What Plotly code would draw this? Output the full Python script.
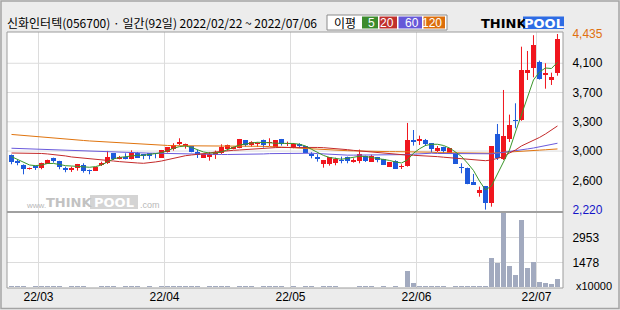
import pandas as pd
import numpy as np
import plotly.graph_objects as go

# ---------------- data ----------------
title_text = "신화인터텍(056700) · 일간(92일) 2022/02/22 ~ 2022/07/06"
krx_holidays = ["2022-03-01", "2022-03-09", "2022-05-05", "2022-06-01", "2022-06-06"]
dates = [d for d in pd.bdate_range("2022-02-22", "2022-07-06")
         if d.strftime("%Y-%m-%d") not in krx_holidays]

open_ = [2909, 2837, 2787, 2729, 2774, 2749, 2799, 2871, 2830, 2749,
         2720, 2749, 2787, 2724, 2711, 2779, 2804, 2934, 2863, 2888,
         2863, 2938, 2918, 2930, 2930, 2875, 2947, 2981, 3044, 3027,
         3022, 2947, 2875, 2888, 2905, 2930, 2981, 2981, 2994, 3098,
         3040, 3044, 3103, 3061, 3014, 3111, 3048, 3010, 3044, 3022,
         2922, 2880, 2796, 2800, 2812, 2846, 2884, 2821, 2834, 2900,
         2825, 2884, 2855, 2762, 2830, 2753, 2774, 3102, 3086, 3098,
         3057, 2955, 3014, 2938, 2930, 2762, 2745, 2569, 2426, 2518,
         2308, 3174, 2863, 3115, 3355, 3351, 3947, 4010, 4086, 3914, 3855, 3947]
high = [2915, 2850, 2790, 2750, 2775, 2812, 2850, 2875, 2835, 2762,
        2762, 2796, 2804, 2724, 2758, 2825, 2960, 2934, 2897, 2930,
        2968, 2947, 2920, 2930, 2930, 2972, 3006, 3057, 3120, 3052,
        3022, 2972, 2918, 2947, 2964, 3044, 3040, 3014, 3111, 3098,
        3082, 3069, 3103, 3120, 3098, 3111, 3078, 3060, 3057, 3022,
        2943, 2918, 2846, 2880, 2875, 2888, 2888, 2867, 2977, 2900,
        2913, 2884, 2860, 2821, 2842, 2792, 3313, 3224, 3153, 3111,
        3057, 3022, 3014, 2994, 2943, 2804, 2750, 2670, 2510, 2518,
        3022, 3300, 3729, 3418, 3561, 4275, 4221, 4420, 4099, 4066, 3947, 4435]
low = [2792, 2779, 2665, 2725, 2720, 2729, 2795, 2812, 2729, 2691,
       2695, 2711, 2686, 2666, 2711, 2770, 2796, 2846, 2854, 2854,
       2854, 2875, 2855, 2854, 2867, 2875, 2940, 2964, 3032, 2989,
       2943, 2871, 2875, 2837, 2859, 2922, 2964, 2981, 2994, 3014,
       3014, 3014, 3002, 3022, 3014, 3027, 3022, 2994, 2994, 2934,
       2867, 2825, 2749, 2774, 2779, 2804, 2804, 2812, 2804, 2821,
       2825, 2817, 2783, 2762, 2736, 2732, 2762, 3027, 3035, 3022,
       2938, 2947, 2930, 2938, 2800, 2678, 2540, 2535, 2383, 2220,
       2257, 2846, 2846, 3073, 3246, 3340, 3855, 3889, 3860, 3745, 3792, 3909]
close = [2825, 2812, 2737, 2742, 2749, 2812, 2846, 2837, 2762, 2716,
         2745, 2796, 2711, 2711, 2758, 2812, 2884, 2863, 2888, 2863,
         2934, 2875, 2890, 2897, 2918, 2972, 3006, 3035, 3073, 3048,
         2951, 2909, 2918, 2922, 2943, 3014, 3032, 3014, 3111, 3035,
         3069, 3057, 3035, 3073, 3098, 3048, 3061, 3052, 3022, 2939,
         2900, 2855, 2846, 2880, 2863, 2829, 2837, 2850, 2922, 2837,
         2900, 2850, 2783, 2821, 2736, 2770, 3102, 3069, 3115, 3044,
         2989, 2998, 2960, 2994, 2800, 2745, 2547, 2535, 2464, 2308,
         3022, 2870, 3149, 3288, 3334, 3981, 3981, 4300, 3871, 3939, 3893, 4372]
# volume in units of 10,000 shares
volume = [62, 58, 71, 45, 52, 66, 74, 55, 60, 49,
          53, 68, 57, 44, 50, 63, 95, 72, 48, 56,
          61, 54, 47, 52, 43, 70, 88, 76, 82, 59,
          64, 51, 46, 55, 58, 80, 66, 49, 90, 62,
          55, 48, 60, 57, 69, 53, 47, 51, 45, 58,
          62, 50, 55, 61, 52, 44, 49, 47, 73, 51,
          56, 48, 54, 50, 57, 46, 974, 277, 92, 63,
          58, 52, 55, 49, 66, 61, 78, 64, 57, 85,
          1767, 1469, 4430, 1273, 736, 4014, 1153, 1511, 319, 259, 200, 498]
ma5 = [2888, 2855, 2812, 2783, 2774, 2783, 2802, 2802, 2789, 2774,
       2770, 2764, 2758, 2754, 2762, 2783, 2821, 2859, 2878, 2888,
       2897, 2905, 2905, 2913, 2922, 2938, 2963, 2994, 3014, 3023,
       3004, 2978, 2947, 2934, 2934, 2947, 2972, 3006, 3035, 3052,
       3060, 3069, 3069, 3063, 3057, 3057, 3057, 3054, 3044, 3023,
       2981, 2938, 2903, 2878, 2862, 2855, 2867, 2880, 2893, 2890,
       2878, 2869, 2855, 2840, 2821, 2808, 2846, 2931, 2987, 3029,
       3044, 3044, 3029, 2997, 2947, 2890, 2806, 2714, 2581, 2468,
       2518, 2670, 2821, 2972, 3199, 3426, 3653, 3855, 3956, 4006, 4000, 4078]
ma20 = [2934, 2934, 2932, 2931, 2929, 2928, 2922, 2915, 2909, 2897,
        2884, 2878, 2869, 2862, 2855, 2846, 2840, 2833, 2825, 2817,
        2812, 2808, 2804, 2808, 2821, 2833, 2852, 2871, 2890, 2900,
        2909, 2915, 2922, 2934, 2947, 2956, 2963, 2968, 2972, 2978,
        2985, 2991, 2997, 3000, 3002, 3004, 3005, 3006, 3006, 3006,
        3006, 3004, 3001, 2997, 2990, 2982, 2976, 2967, 2960, 2951,
        2943, 2936, 2928, 2922, 2915, 2909, 2907, 2905, 2903, 2898,
        2893, 2888, 2881, 2875, 2867, 2862, 2857, 2852, 2846, 2837,
        2846, 2865, 2888, 2934, 2972, 3023, 3057, 3098, 3130, 3174, 3224, 3275]
ma60 = [2994, 2991, 2987, 2985, 2981, 2978, 2975, 2972, 2968, 2966,
        2963, 2960, 2956, 2953, 2951, 2948, 2947, 2943, 2941, 2938,
        2937, 2934, 2933, 2932, 2931, 2929, 2928, 2926, 2923, 2920,
        2918, 2915, 2915, 2915, 2915, 2915, 2915, 2915, 2915, 2915,
        2915, 2918, 2922, 2926, 2928, 2929, 2931, 2931, 2931, 2931,
        2931, 2927, 2922, 2917, 2912, 2907, 2907, 2907, 2907, 2907,
        2907, 2907, 2907, 2907, 2907, 2909, 2914, 2919, 2924, 2928,
        2931, 2928, 2928, 2928, 2928, 2928, 2928, 2928, 2928, 2922,
        2924, 2932, 2941, 2949, 2960, 2972, 2985, 2997, 3010, 3023, 3039, 3057]
ma120 = [3168, 3161, 3155, 3149, 3142, 3136, 3130, 3123, 3116, 3108,
         3102, 3097, 3092, 3086, 3081, 3076, 3071, 3066, 3060, 3057,
         3052, 3048, 3044, 3040, 3037, 3033, 3029, 3026, 3026, 3026,
         3026, 3026, 3026, 3026, 3026, 3023, 3023, 3023, 3023, 3023,
         3023, 3020, 3018, 3015, 3013, 3010, 3005, 3000, 2995, 2990,
         2985, 2981, 2977, 2973, 2970, 2966, 2963, 2961, 2958, 2956,
         2953, 2951, 2951, 2951, 2951, 2951, 2947, 2944, 2944, 2944,
         2944, 2939, 2938, 2937, 2936, 2934, 2931, 2931, 2931, 2931,
         2931, 2937, 2943, 2947, 2952, 2956, 2960, 2965, 2970, 2975, 2980, 2985]
ma_labels = ["5", "20", "60", "120"]
price_tick_labels = ["2,220", "2,600", "3,000", "3,300", "3,700", "4,100", "4,435"]
volume_tick_vals = [1478, 2953]
volume_tick_labels = ["1478", "2953"]
volume_unit = "x10000"
legend_title = "이평"

for arr in (open_, high, low, close, volume, ma5, ma20, ma60, ma120):
    assert len(arr) == len(dates) == 92

# ---------------- styles ----------------
W, H = 620, 310
ML, MR, MT, MB = 7, 57, 32, 22
PW, PH = W - ML - MR, H - MT - MB
RED, BLUE = "#F0161E", "#1E5ADC"
MA_COLORS = ["#3A962A", "#C42A2A", "#6A5ADC", "#E0740E"]
CHIP_COLORS = ["#3C8C2E", "#C0302C", "#6658D8", "#DC6E0C"]
GRID = "#DCDCDC"
FRAME = "#9C9C9C"
FONT = "Liberation Sans"
KFONT = "Noto Sans CJK KR"


def px(x):
    return (x - ML) / PW


def py(y):
    return (H - MB - y) / PH


VOL_DOMAIN_TOP = (288 - 212) / PH

idx = np.arange(len(dates))
o, h, l, c = map(np.array, (open_, high, low, close))
up = c >= o
dn = ~up

fig = go.Figure()


def wick_xy(mask):
    xs, ys = [], []
    for i in idx[mask]:
        xs += [i, i, None]
        ys += [l[i], h[i], None]
    return xs, ys


for mask, col in ((up, RED), (dn, BLUE)):
    wx, wy = wick_xy(mask)
    fig.add_trace(go.Scatter(x=wx, y=wy, mode="lines", line=dict(color=col, width=1),
                             xaxis="x2", yaxis="y", hoverinfo="skip", showlegend=False))
    base = np.minimum(o[mask], c[mask])
    hgt = np.maximum(np.abs(c[mask] - o[mask]), 13)
    fig.add_trace(go.Bar(x=idx[mask], y=hgt, base=base, width=0.82,
                         marker=dict(color=col, line=dict(width=0)),
                         xaxis="x2", yaxis="y", showlegend=False))

for ma, col in zip((ma120, ma60, ma20, ma5), MA_COLORS[::-1]):
    fig.add_trace(go.Scatter(x=idx, y=ma, mode="lines", line=dict(color=col, width=1),
                             xaxis="x2", yaxis="y", showlegend=False, hoverinfo="skip"))

fig.add_trace(go.Bar(x=idx, y=volume, width=0.82, marker=dict(color="#A2AABF", line=dict(width=0)),
                     xaxis="x", yaxis="y2", showlegend=False))

# month ticks from the trading dates
month_start = [i for i in idx if i == 0 or dates[i].month != dates[i - 1].month][1:]
month_vals = [i - 0.5 for i in month_start]
month_text = [dates[i].strftime("%y/%m") for i in month_start]

price_min, price_max = min(low), max(high)
price_ticks = list(np.linspace(price_min, price_max, len(price_tick_labels)))
price_ticktext = list(price_tick_labels)
price_ticktext[0] = f'<span style="color:#1414C8">{price_tick_labels[0]}</span>'
price_ticktext[-1] = f'<span style="color:#E07010">{price_tick_labels[-1]}</span>'

step = (price_max - price_min) / (209.6 - 34)
price_range = [price_min - 2.4 * step, price_max + 2 * step]
vstep = max(volume) / (287.35 - 213)
vol_range = [-0.65 * vstep, max(volume) + 1 * vstep]

xr = [-0.75, len(dates) - 0.08]
common_x = dict(range=xr, showgrid=True, gridcolor=GRID, gridwidth=1, zeroline=False,
                tickmode="array", tickvals=month_vals, ticks="", showline=False, fixedrange=True)

fig.update_layout(
    width=W, height=H, margin=dict(l=ML, r=MR, t=MT, b=MB),
    paper_bgcolor="#ECECEC", plot_bgcolor="#FFFFFF",
    barmode="overlay", bargap=0, showlegend=False,
    font=dict(family=FONT, size=12, color="#000"),
    xaxis=dict(**common_x, domain=[0, 1], anchor="y2", ticktext=month_text,
               tickfont=dict(family=FONT, size=12, color="#000")),
    xaxis2=dict(**common_x, domain=[0, 1], anchor="y", matches="x", showticklabels=False),
    yaxis=dict(domain=[VOL_DOMAIN_TOP, 1], anchor="x2", side="right", range=price_range,
               tickmode="array", tickvals=price_ticks, ticktext=price_ticktext,
               showgrid=False, zeroline=False, ticks="outside", ticklen=6,
               tickcolor="rgba(0,0,0,0)", tickfont=dict(family=FONT, size=12, color="#000")),
    yaxis2=dict(domain=[0, VOL_DOMAIN_TOP], anchor="x", side="right", range=vol_range,
                tickmode="array", tickvals=volume_tick_vals, ticktext=volume_tick_labels,
                showgrid=True, gridcolor=GRID, zeroline=False, ticks="outside", ticklen=6,
                tickcolor="rgba(0,0,0,0)", tickfont=dict(family=FONT, size=12, color="#000")),
)

shapes = []
for v in price_ticks[1:-1]:
    shapes.append(dict(type="line", xref="paper", yref="y", x0=0, x1=1, y0=v, y1=v,
                       line=dict(color=GRID, width=1), layer="below"))
shapes.append(dict(type="line", xref="paper", yref="paper", x0=0, x1=1,
                   y0=VOL_DOMAIN_TOP, y1=VOL_DOMAIN_TOP, line=dict(color="#A0A0A0", width=2)))
shapes.append(dict(type="rect", xref="paper", yref="paper", x0=0, x1=1, y0=0, y1=1,
                   line=dict(color=FRAME, width=1)))
shapes.append(dict(type="rect", xref="paper", yref="paper", x0=px(1), x1=px(619), y0=py(308.5), y1=py(1),
                   line=dict(color="#A4A4A4", width=1.5)))
shapes.append(dict(type="rect", xref="paper", yref="paper", x0=px(327), x1=px(447), y0=py(30), y1=py(15),
                   fillcolor="#FFFFFF", line=dict(color="#8C8C8C", width=1)))
chip_x = [(362, 378), (379.5, 397), (398.5, 422), (423.5, 445)]
for (a, b), col in zip(chip_x, CHIP_COLORS):
    shapes.append(dict(type="rect", xref="paper", yref="paper", x0=px(a), x1=px(b),
                       y0=py(28.5), y1=py(16.5), fillcolor=col, line=dict(width=0)))
shapes.append(dict(type="rect", xref="paper", yref="paper", x0=px(523), x1=px(564), y0=py(29), y1=py(16.5),
                   fillcolor="#2E6CE4", line=dict(width=0)))
shapes.append(dict(type="rect", xref="paper", yref="paper", x0=px(90), x1=px(138), y0=py(209), y1=py(195),
                   fillcolor="#D4D4D4", line=dict(width=0), layer="below"))
fig.update_layout(shapes=shapes)

ann = []


def add_text(text, x, y, size=12, color="#000", family=FONT, xanchor="left", yanchor="middle", bold=False):
    if bold:
        text = f"<b>{text}</b>"
    ann.append(dict(text=text, x=px(x), y=py(y), xref="paper", yref="paper", showarrow=False,
                    xanchor=xanchor, yanchor=yanchor, font=dict(size=size, color=color, family=family),
                    borderpad=0))


add_text(title_text, 6, 22.5, size=12, family=KFONT)
add_text(legend_title, 344.5, 22.5, size=12, family=KFONT, xanchor="center")
for (a, b), lab in zip(chip_x, ma_labels):
    add_text(lab, b - 2, 22.5, size=12, color="#FFFFFF", xanchor="right")
add_text("THINK", 480, 23, size=13, bold=True, family="DejaVu Sans")
add_text("POOL", 543.5, 23, size=13, color="#FFFFFF", bold=True, family="DejaVu Sans", xanchor="center")
# watermark
add_text("www.", 47, 205, size=8, color="#B8B8B8", xanchor="right")
add_text("THINK", 68.5, 202, size=13, color="#C2C2C2", bold=True, family="DejaVu Sans", xanchor="center")
add_text("POOL", 114, 202, size=13, color="#FFFFFF", bold=True, family="DejaVu Sans", xanchor="center")
add_text(".com", 138.5, 205, size=9, color="#B8B8B8")
add_text(volume_unit, 575, 285.5, size=11)
fig.update_layout(annotations=ann)

fig.write_html("out.html", config={"displayModeBar": False, "staticPlot": True})
